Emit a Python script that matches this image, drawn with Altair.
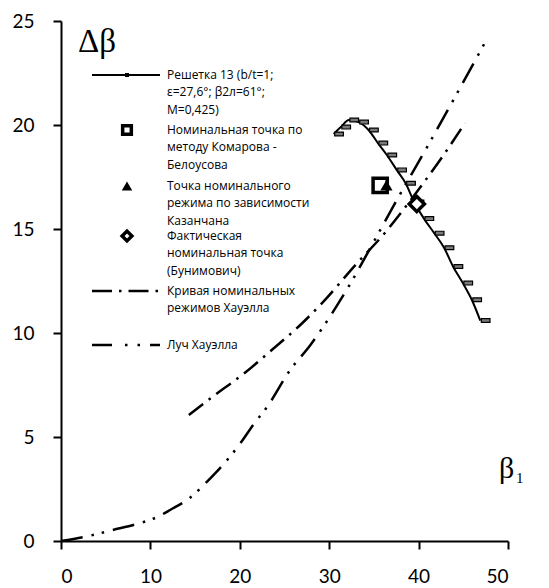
import altair as alt
import pandas as pd

# ---- data ----
main_x = [30.5, 31.3, 32.2, 33.3, 34.4, 35.45, 36.45, 37.55, 38.55, 39.5, 40.6, 41.75, 42.85, 43.85, 44.95, 45.95, 46.9]
main_y = [19.57, 19.9, 20.24, 20.14, 19.76, 19.13, 18.56, 17.84, 17.2, 16.3, 15.5, 14.8, 14.1, 13.2, 12.4, 11.6, 10.6]

howell_x = [14.3, 16.9, 20.4, 23.7, 27.0, 29.2, 33.0, 36.4, 37.7, 40.0, 42.7, 45.2]
howell_y = [6.06, 6.92, 8.03, 9.23, 10.48, 11.44, 13.3, 14.9, 15.6, 16.9, 18.5, 20.1]

ray_x = [0, 3.1, 5.8, 8.5, 11.0, 12.2, 14.4, 16.4, 18.3, 20.0, 21.5, 23.2, 25.6, 27.9, 30.1, 32.4, 35.0, 37.7, 40.9, 43.5, 47.6]
ray_y = [0, 0.24, 0.53, 0.82, 1.2, 1.49, 2.07, 2.88, 3.75, 4.66, 5.58, 6.54, 8.2, 9.42, 10.8, 12.4, 14.4, 16.5, 18.9, 20.9, 24.1]

komarov_x, komarov_y = [35.7], [17.1]
kazanchan_x, kazanchan_y = [36.4], [17.1]
bunimovich_x, bunimovich_y = [39.8], [16.2]

x_ticks = [0, 10, 20, 30, 40, 50]
y_ticks = [0, 5, 10, 15, 20, 25]

legend_entries = [
    ["Решетка 13 (b/t=1;", "ε=27,6°; β2л=61°;", "M=0,425)"],
    ["Номинальная точка по", "методу Комарова -", "Белоусова"],
    ["Точка номинального", "режима по зависимости", "Казанчана"],
    ["Фактическая", "номинальная точка", "(Бунимович)"],
    ["Кривая номинальных", "режимов Хауэлла"],
    ["Луч Хауэлла"],
]

# ---- layout ----
W, H = 447, 520
entry_top = [54, 109, 165, 215, 270, 324]
line_gap = 17.3
sym_x = 66
line_x0, line_x1 = 31, 99
text_x = 106

xs = alt.Scale(domain=[0, 50], nice=False, zero=False)
ys = alt.Scale(domain=[0, 25], nice=False, zero=False)
x_axis = alt.Axis(values=x_ticks, title=None, grid=False, labelPadding=18)
y_axis = alt.Axis(values=y_ticks, title=None, grid=False, labelPadding=19)


def X():
    return alt.X("x:Q", scale=xs, axis=x_axis)


def Y():
    return alt.Y("y:Q", scale=ys, axis=y_axis)


main_df = pd.DataFrame({"x": main_x, "y": main_y})
howell_df = pd.DataFrame({"x": howell_x, "y": howell_y})
ray_df = pd.DataFrame({"x": ray_x, "y": ray_y})
kom_df = pd.DataFrame({"x": komarov_x, "y": komarov_y})
kaz_df = pd.DataFrame({"x": kazanchan_x, "y": kazanchan_y})
bun_df = pd.DataFrame({"x": bunimovich_x, "y": bunimovich_y})

dash_shape = "M0.12,-0.22H1.12V0.22H0.12Z"

main_line = alt.Chart(main_df).mark_line(color="black", strokeWidth=2, interpolate="monotone").encode(x=X(), y=Y())
main_pts = alt.Chart(main_df).mark_point(
    shape=dash_shape, size=300, filled=True, fill="#7a7a7a", stroke="black", strokeWidth=1.2, opacity=1
).encode(x=X(), y=Y())

howell_line = alt.Chart(howell_df).mark_line(
    color="black", strokeWidth=2.5, strokeDash=[18, 7, 2.5, 7], interpolate="monotone"
).encode(x=X(), y=Y())
ray_line = alt.Chart(ray_df).mark_line(
    color="black", strokeWidth=2.5, strokeDash=[22, 9, 2.5, 8, 2.5, 9], interpolate="monotone"
).encode(x=X(), y=Y())

kom_pt = alt.Chart(kom_df).mark_point(shape="square", size=200, filled=False, color="black", strokeWidth=3.5, opacity=1).encode(x=X(), y=Y())
kaz_pt = alt.Chart(kaz_df).mark_point(shape="triangle-up", size=150, filled=True, color="black", opacity=1).encode(x=X(), y=Y())
bun_pt = alt.Chart(bun_df).mark_point(shape="diamond", size=230, filled=True, fill="white", stroke="black", strokeWidth=3.5, opacity=1).encode(x=X(), y=Y())

# ---- legend (drawn manually) ----
rows = []
for i, lines in enumerate(legend_entries):
    for j, t in enumerate(lines):
        rows.append({"t": t, "px": text_x, "py": entry_top[i] + j * line_gap})
leg_df = pd.DataFrame(rows)
leg_text = alt.Chart(leg_df).mark_text(
    align="left", baseline="middle", font="Open Sans", fontSize=12, color="black"
).encode(x=alt.X("px:Q", scale=None, axis=None), y=alt.Y("py:Q", scale=None, axis=None), text="t:N")

one = pd.DataFrame({"a": [0]})


def leg_rule(y, dash, width):
    kw = dict(color="black", strokeWidth=width)
    if dash:
        kw["strokeDash"] = dash
    return alt.Chart(one).mark_rule(**kw).encode(
        x=alt.value(line_x0), x2=alt.value(line_x1), y=alt.value(y)
    )


leg1 = leg_rule(entry_top[0], None, 2)
leg1m = alt.Chart(one).mark_point(shape="square", size=16, filled=True, color="black", opacity=1).encode(
    x=alt.value(sym_x), y=alt.value(entry_top[0]))
leg2 = alt.Chart(one).mark_point(shape="square", size=75, filled=False, color="black", strokeWidth=3.5, opacity=1).encode(
    x=alt.value(sym_x), y=alt.value(entry_top[1]))
leg3 = alt.Chart(one).mark_point(shape="triangle-up", size=110, filled=True, color="black", opacity=1).encode(
    x=alt.value(sym_x), y=alt.value(entry_top[2]))
leg4 = alt.Chart(one).mark_point(shape="diamond", size=95, filled=True, fill="white", stroke="black", strokeWidth=3.5, opacity=1).encode(
    x=alt.value(sym_x), y=alt.value(entry_top[3]))
leg5 = leg_rule(entry_top[4], [20, 7, 2.5, 7], 2.5)
leg6 = leg_rule(entry_top[5], [20, 13, 2.5, 10, 2.5, 10], 2.5)

# ---- axis titles ----
db = alt.Chart(one).mark_text(align="left", baseline="middle", font="Liberation Serif", fontSize=33, color="black").encode(
    x=alt.value(17), y=alt.value(21), text=alt.value("Δβ"))
b1 = alt.Chart(one).mark_text(align="left", baseline="middle", font="Liberation Serif", fontSize=30, color="black").encode(
    x=alt.value(438), y=alt.value(448), text=alt.value("β"))
b1s = alt.Chart(one).mark_text(align="left", baseline="middle", font="Liberation Serif", fontSize=15, color="black").encode(
    x=alt.value(455), y=alt.value(457), text=alt.value("1"))

chart = alt.layer(
    howell_line, ray_line, main_line, main_pts, kom_pt, kaz_pt, bun_pt,
    leg_text, leg1, leg1m, leg2, leg3, leg4, leg5, leg6, db, b1, b1s
).properties(
    width=W, height=H,
    padding={"left": 53, "top": 13, "right": 33, "bottom": 48},
    autosize=alt.AutoSizeParams(type="none"),
).configure_view(stroke=None).configure_axis(
    domainColor="black", domainWidth=2, tickColor="black", tickWidth=2, tickSize=8,
    labelFont="Lato", labelFontSize=19, labelColor="black"
)

chart.save("out.html", embed_options={"renderer": "svg", "actions": False})
